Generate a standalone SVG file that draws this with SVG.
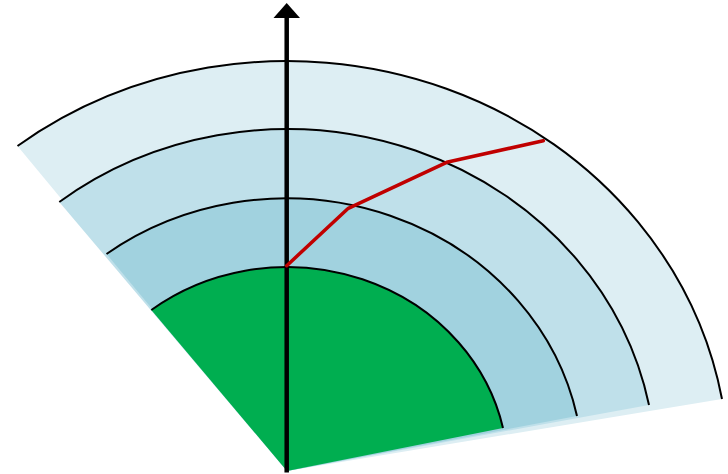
<svg xmlns="http://www.w3.org/2000/svg" width="728" height="474" viewBox="0 0 728 474">
  <style>
    .arc { fill: none; stroke: #000; stroke-width: 2; }
    .axis { stroke: #000; stroke-width: 4.5; fill: none; }
    .path { stroke: #C00000; stroke-width: 3.5; fill: none; stroke-linejoin: round; stroke-linecap: round; }
  </style>
  <rect width="728" height="474" fill="#fff"/>
  <g id="ring-outer">
    <path d="M287,471 L17.5,146 A442,410 0 0 1 722,399 Z" fill="#DDEEF3"/>
    <path class="arc" d="M17.5,146 A442,410 0 0 1 722,399"/>
  </g>
  <g id="ring-2">
    <path d="M287,471 L59.3,202 A369,342 0 0 1 649,405 Z" fill="#BFE0EA"/>
    <path class="arc" d="M59.3,202 A369,342 0 0 1 649,405"/>
  </g>
  <g id="ring-3">
    <path d="M287,471 L106.5,254 A297,273 0 0 1 577,416 Z" fill="#A1D2DF"/>
    <path class="arc" d="M106.5,254 A297,273 0 0 1 577,416"/>
  </g>
  <g id="core">
    <path d="M287,471 L151.3,310 A221,204 0 0 1 503,428 Z" fill="#00AE50"/>
    <path class="arc" d="M151.3,310 A221,204 0 0 1 503,428"/>
  </g>
  <g id="connectors">
    <line class="axis" x1="286.7" y1="472.5" x2="286.7" y2="16"/>
    <polygon points="273.5,18 300,18 286.7,3" fill="#000"/>
    <polyline class="path" points="286.7,265.7 348.3,208.3 446.7,162.3 543.3,140.7"/>
  </g>
</svg>
